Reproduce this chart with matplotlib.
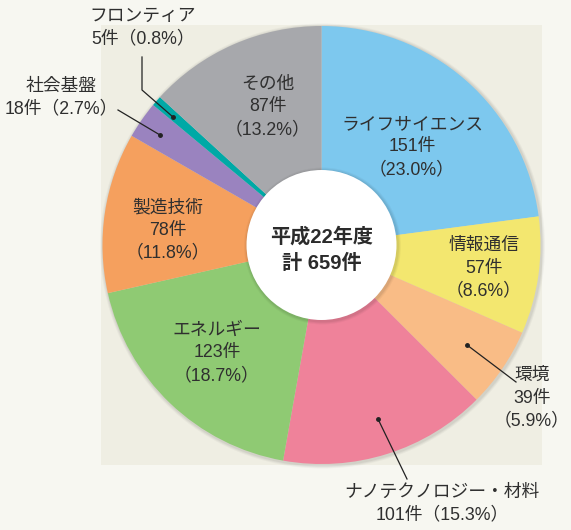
import matplotlib
matplotlib.use("Agg")
import matplotlib.pyplot as plt
from matplotlib.patches import Rectangle, Circle

plt.rcParams['font.family'] = ['Liberation Sans', 'Noto Sans CJK JP', 'DejaVu Sans']

categories = ["ライフサイエンス", "情報通信", "環境", "ナノテクノロジー・材料",
              "エネルギー", "製造技術", "社会基盤", "フロンティア", "その他"]
counts = [151, 57, 39, 101, 123, 78, 18, 5, 87]
percents = ["23.0", "8.6", "5.9", "15.3", "18.7", "11.8", "2.7", "0.8", "13.2"]
colors = ["#7dc8ee", "#f3e76f", "#f9bc86", "#ef829a", "#8fca73",
          "#f5a05e", "#9a83bf", "#00a9a6", "#a7a8ac"]
center_title = "平成22年度"
center_total = "計 659件"

W, H = 571, 530
fig = plt.figure(figsize=(W / 100, H / 100), dpi=100, facecolor="#f7f7f1")
ax = fig.add_axes([0, 0, 1, 1])
ax.set_facecolor("#f7f7f1")

def py(y):
    return H - y

# inner panel
ax.add_patch(Rectangle((101, py(465)), 441, 440, facecolor="#efeee3",
                       edgecolor="none", zorder=0))

cx, cy, R, r_in = 321.5, py(245), 219, 75
# soft shadow
for i, a in enumerate([0.05, 0.04, 0.03]):
    ax.add_patch(Circle((cx + 1, cy - 1), R + 1.5 + i, facecolor="#000000",
                        alpha=a, edgecolor="none", zorder=1))
ax.pie(counts, colors=colors, startangle=90, counterclock=False, radius=R,
       center=(cx, cy), wedgeprops=dict(linewidth=0, zorder=2), frame=False)
for i, a in enumerate([0.05, 0.04, 0.03]):
    ax.add_patch(Circle((cx + 1, cy - 1), r_in + 1.5 + i, facecolor="#000000",
                        alpha=a, edgecolor="none", zorder=3))
ax.add_patch(Circle((cx, cy), r_in, facecolor="white", edgecolor="none", zorder=4))

ax.text(cx, py(237), center_title, ha="center", va="center", fontsize=14.5,
        fontweight="bold", color="#2b2b2b", zorder=5)
ax.text(cx, py(263), center_total, ha="center", va="center", fontsize=14.5,
        fontweight="bold", color="#2b2b2b", zorder=5)

txtc = "#2f2f2f"
fs = 12.8

def label(i, x, y, lines):
    ax.text(x, py(y), "\n".join(lines), ha="center", va="center", fontsize=fs,
            color=txtc, linespacing=1.42, zorder=6)

def lab3(i, x, y):
    label(i, x, y, [categories[i], f"{counts[i]}件", f"（{percents[i]}%）"])

lab3(0, 412, 147)
lab3(1, 484, 268)
lab3(2, 532, 398)
lab3(4, 217, 353)
lab3(5, 168, 230)
lab3(8, 268, 107)
label(3, 442, 504, [categories[3], f"{counts[3]}件（{percents[3]}%）"])
label(6, 61, 98, [categories[6], f"{counts[6]}件（{percents[6]}%）"])
label(7, 143, 28, [categories[7], f"{counts[7]}件（{percents[7]}%）"])

def leader(pts):
    xs = [p[0] for p in pts]
    ys = [py(p[1]) for p in pts]
    ax.plot(xs, ys, color="#222222", lw=0.9, zorder=6)
    ax.plot(xs[-1], ys[-1], "o", color="#222222", ms=2.5, zorder=6)

leader([(142, 57), (142, 90), (173, 117)])
leader([(118, 110), (160, 135)])
leader([(516, 382), (467, 345)])
leader([(407, 479), (378, 419)])

ax.set_xlim(0, W)
ax.set_ylim(0, H)
ax.set_aspect("auto")
ax.axis("off")
fig.savefig("out.png", dpi=100, facecolor=fig.get_facecolor())
